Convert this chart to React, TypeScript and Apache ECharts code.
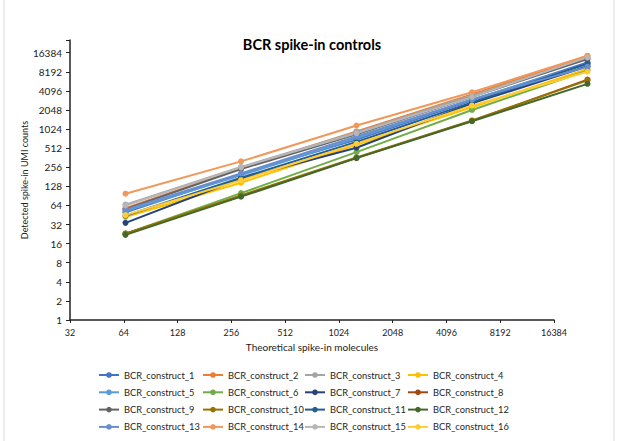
import React, { useEffect, useRef } from "react";
import * as echarts from "echarts";

const molecules = [64, 256, 1024, 4096, 16384];

const seriesNames = [
  "BCR_construct_1", "BCR_construct_2", "BCR_construct_3", "BCR_construct_4",
  "BCR_construct_5", "BCR_construct_6", "BCR_construct_7", "BCR_construct_8",
  "BCR_construct_9", "BCR_construct_10", "BCR_construct_11", "BCR_construct_12",
  "BCR_construct_13", "BCR_construct_14", "BCR_construct_15", "BCR_construct_16",
];

const seriesColors = [
  "#4472C4", "#ED7D31", "#A5A5A5", "#FFC000",
  "#5B9BD5", "#70AD47", "#264478", "#9E480E",
  "#636363", "#997300", "#255E91", "#43682B",
  "#698ED0", "#F1975A", "#B7B7B7", "#FFCD33",
];

const c1 = [50, 200, 700, 2900, 11500];
const c2 = [58, 245, 940, 3600, 14500];
const c3 = [66, 258, 915, 3460, 13400];
const c4 = [42, 146, 580, 2260, 9080];
const c5 = [52, 191, 735, 3000, 10900];
const c6 = [23, 100, 443, 2050, 8550];
const c7 = [34, 170, 520, 2600, 10000];
const c8 = [23, 90, 360, 1380, 6170];
const c9 = [56, 240, 850, 3300, 13000];
const c10 = [23, 92, 365, 1400, 6000];
const c11 = [44, 175, 640, 2700, 11000];
const c12 = [22, 88, 357, 1360, 5290];
const c13 = [55, 205, 780, 3000, 9800];
const c14 = [98, 317, 1165, 3900, 14700];
const c15 = [64, 255, 880, 3300, 13800];
const c16 = [45, 160, 600, 2400, 8200];

const allValues = [c1, c2, c3, c4, c5, c6, c7, c8, c9, c10, c11, c12, c13, c14, c15, c16];

const FONT = "Lato";

export default function App() {
  const ref = useRef<HTMLDivElement>(null);
  useEffect(() => {
    if (!ref.current) return;
    const chart = echarts.init(ref.current, undefined, { renderer: "svg" });
    const yMax = 14.665;
    const pow2 = (v: number) => (Math.abs(v - Math.round(v)) < 1e-6 ? String(Math.pow(2, Math.round(v))) : "");
    const series = allValues.map((vals, i) => ({
      name: seriesNames[i],
      type: "line",
      xAxisIndex: 1,
      yAxisIndex: 1,
      data: molecules.map((m, j) => [Math.log2(m), Math.log2(vals[j])]),
      symbol: "circle",
      symbolSize: 6,
      clip: false,
      color: seriesColors[i],
      lineStyle: { width: 2, color: seriesColors[i] },
      itemStyle: { color: seriesColors[i] },
    }));
    const cols = [0, 1, 2, 3].map((c) => [0, 1, 2, 3].map((r) => seriesNames[r * 4 + c]));
    const legendLefts = [98, 202, 304, 407];
    chart.setOption({
      animation: false,
      backgroundColor: "#ffffff",
      textStyle: { fontFamily: FONT },
      title: {
        text: "BCR spike-in controls",
        left: 307,
        top: 32,
        textAlign: "center",
        textStyle: { fontFamily: FONT, fontSize: 14.5, fontWeight: "bold", color: "#000" },
      },
      legend: cols.map((names, c) => ({
        data: names,
        orient: "vertical",
        left: legendLefts[c],
        top: 369,
        itemWidth: 20,
        itemHeight: 7,
        itemGap: 5.3,
        padding: 0,
        textStyle: { fontFamily: FONT, fontSize: 9.3, color: "#262626", lineHeight: 12 },
      })),
      grid: [
        { left: 70, top: 40, width: 484, height: 280 },
        { left: 67.75, top: 40, width: 519.75, height: 280 },
      ],
      xAxis: [
        {
          type: "value",
          gridIndex: 0,
          min: 5,
          max: 14,
          interval: 1,
          name: "Theoretical spike-in molecules",
          nameLocation: "middle",
          nameGap: 22,
          nameMoveOverlap: false,
          nameTextStyle: { fontFamily: FONT, fontSize: 10, color: "#222" },
          axisLine: { show: true, lineStyle: { color: "#222", width: 1.5 } },
          axisTick: { show: true, length: 3, lineStyle: { color: "#222" } },
          axisLabel: { formatter: pow2, fontSize: 9, color: "#222", margin: 8, fontFamily: FONT },
          splitLine: { show: false },
        },
        { type: "value", gridIndex: 1, min: 5, max: 14, show: false, splitLine: { show: false } },
      ],
      yAxis: [
        {
          type: "value",
          gridIndex: 0,
          min: 0,
          max: yMax,
          interval: 1,
          name: "Detected spike-in UMI counts",
          nameLocation: "middle",
          nameGap: 41,
          nameMoveOverlap: false,
          nameTextStyle: { fontFamily: FONT, fontSize: 9, color: "#222" },
          axisLine: { show: true, lineStyle: { color: "#222", width: 1.5 } },
          axisTick: { show: true, length: 4, lineStyle: { color: "#222" } },
          axisLabel: { formatter: pow2, fontSize: 10, color: "#222", margin: 8, fontFamily: FONT },
          splitLine: { show: false },
        },
        { type: "value", gridIndex: 1, min: 0, max: yMax, show: false, splitLine: { show: false } },
      ],
      graphic: [
        { type: "line", shape: { x1: 4, y1: 0, x2: 4, y2: 441 }, style: { stroke: "#D9D9D9", lineWidth: 1 } },
        { type: "line", shape: { x1: 614, y1: 0, x2: 614, y2: 441 }, style: { stroke: "#D9D9D9", lineWidth: 1 } },
      ],
      series,
    });
    return () => chart.dispose();
  }, []);
  return <div ref={ref} style={{ position: "fixed", left: 0, top: 0, width: 626, height: 441 }} />;
}
